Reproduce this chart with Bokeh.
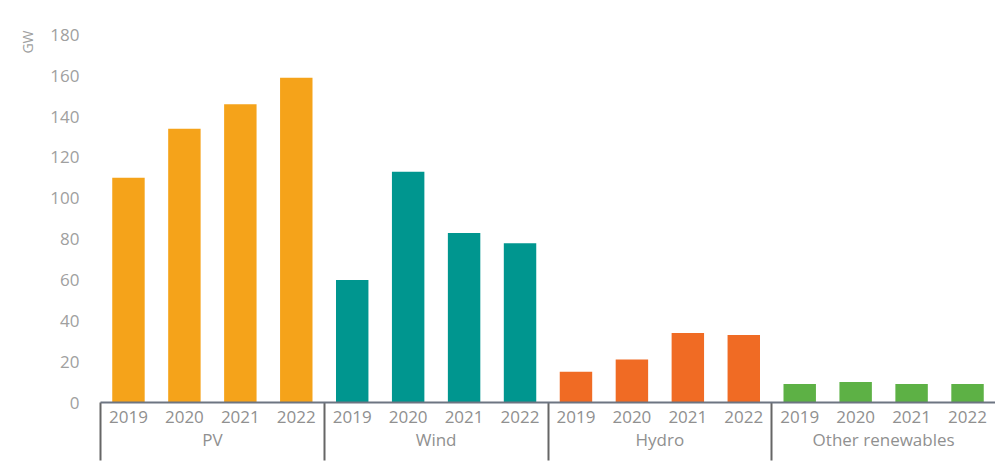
from bokeh.plotting import figure
from bokeh.models import FactorRange, Range1d, ColumnDataSource, Title, LinearAxis, FixedTicker
from bokeh.transform import factor_cmap
from bokeh.embed import file_html
from bokeh.resources import INLINE

groups = ["PV", "Wind", "Hydro", "Other renewables"]
years = ["2019", "2020", "2021", "2022"]
pv = [110, 134, 146, 159]
wind = [60, 113, 83, 78]
hydro = [15, 21, 34, 33]
other = [9, 10, 9, 9]
colors = ["#F5A31A", "#00968F", "#F06B24", "#5DB145"]

series = [pv, wind, hydro, other]
x = [(g, y) for g in groups for y in years]
vals = [v for s in series for v in s]
source = ColumnDataSource(data=dict(x=x, v=vals))

p = figure(
    x_range=FactorRange(*x, group_padding=0, factor_padding=0, range_padding=0),
    y_range=Range1d(0, 188),
    width=995, height=464,
    output_backend="svg", toolbar_location=None,
    min_border_left=100, min_border_right=0, min_border_top=18, min_border_bottom=62,
    background_fill_color="white", border_fill_color="white",
)
p.outline_line_color = None
p.vbar(x="x", top="v", width=0.58, source=source, line_color=None,
       fill_color=factor_cmap("x", palette=colors, factors=groups, end=1))

p.xgrid.grid_line_color = None
p.ygrid.grid_line_color = None

p.yaxis.ticker = list(range(0, 181, 20))
p.yaxis.axis_line_color = None
p.yaxis.major_tick_line_color = None
p.yaxis.minor_tick_line_color = None
p.yaxis.major_label_standoff = 15
p.yaxis.major_label_text_font = "Open Sans"
p.yaxis.major_label_text_font_size = "17px"
p.yaxis.major_label_text_color = "#a0a0a0"

xa = p.xaxis[0]
xa.axis_line_color = "#6d7582"
xa.axis_line_width = 2
xa.major_tick_line_color = None
xa.minor_tick_line_color = None
xa.major_label_text_font = "Open Sans"
xa.major_label_text_font_size = "17px"
xa.major_label_text_color = "#909090"
xa.major_label_standoff = 2
xa.group_text_font = "Open Sans"
xa.group_text_font_size = "17px"
xa.group_text_font_style = "normal"
xa.group_text_color = "#909090"
xa.separator_line_color = None

# group separator lines (including the left edge), drawn as long ticks of a helper axis
# placed on the synthetic coordinates of the same factor range
sep_axis = LinearAxis(
    ticker=FixedTicker(ticks=[i * len(years) for i in range(len(groups))], minor_ticks=[]),
    axis_line_color=None,
    major_tick_in=-58, major_tick_out=0,
    major_tick_line_color="#666666", major_tick_line_width=2,
    minor_tick_line_color=None,
    major_label_text_color=None, major_label_standoff=0,
)
p.below.insert(0, sep_axis)

p.add_layout(Title(text="GW", align="right", offset=12, standoff=22,
                   text_font="Open Sans", text_font_size="14px",
                   text_font_style="normal", text_color="#a0a0a0"), "left")

open("out.html", "w").write(file_html(p, INLINE))
